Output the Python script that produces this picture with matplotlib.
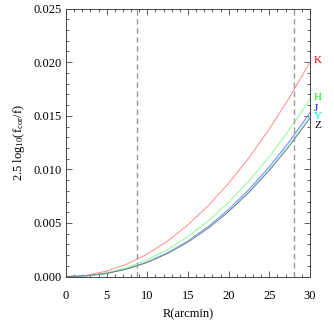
import matplotlib
matplotlib.use("Agg")
import matplotlib.pyplot as plt
from matplotlib.ticker import MultipleLocator

plt.rcParams['font.family'] = ['Liberation Serif', 'DejaVu Serif']
plt.rcParams['mathtext.fontset'] = 'custom'
plt.rcParams['mathtext.rm'] = 'Liberation Serif'
plt.rcParams['mathtext.it'] = 'Liberation Serif'

# radius in arcmin
r = [0, 2.5, 5, 7.5, 10, 12.5, 15, 17.5, 20, 22.5, 25, 27.5, 30]

# 2.5 log10(f_cor/f) per band
k_band = [0, 0.000123, 0.000508, 0.001166, 0.002104, 0.003322, 0.004830,
          0.006624, 0.008710, 0.011088, 0.013764, 0.016732, 0.0200]
h_band = [0, 0.0000792, 0.000352, 0.000841, 0.001560, 0.002520, 0.003731,
          0.005197, 0.006925, 0.008921, 0.011190, 0.013735, 0.01656]
j_band = [0, 0.0000647, 0.000297, 0.000725, 0.001365, 0.002229, 0.003331,
          0.004674, 0.006270, 0.008124, 0.010245, 0.012635, 0.0153]
y_band = [0, 0.0000634, 0.000291, 0.000711, 0.001338, 0.002184, 0.003264,
          0.004581, 0.006145, 0.007962, 0.010040, 0.012382, 0.0150]
z_band = [0, 0.0000626, 0.000287, 0.000701, 0.001320, 0.002156, 0.003221,
          0.004520, 0.006063, 0.007856, 0.009907, 0.012218, 0.0148]

bands = ["K", "H", "J", "Y", "Z"]
label_y = [0.0202, 0.0167, 0.0157, 0.0149, 0.0141]
vlines = [8.7, 28.0]

line_colors = ['#ff8c8c', '#8cff8c', '#7a7aff', '#8cffff', '#777777']
text_colors = ['#ff0000', '#00ee00', '#0000ff', '#00e5e5', '#000000']

fig = plt.figure(figsize=(3.34, 3.32), dpi=100, facecolor="white")
ax = fig.add_axes([0.1976, 0.167, 0.7305, 0.807])

for data, c in zip([k_band, h_band, j_band, y_band, z_band], line_colors):
    ax.plot(r, data, '-', linewidth=0.7, color=c)

for xv in vlines:
    ax.axvline(xv, color='#999999', linestyle=(0, (4, 2.5)), linewidth=1.0)

for name, yv, c in zip(bands, label_y, text_colors):
    ax.text(30.5, yv, name, color=c, fontsize=8, ha='left', va='center',
            clip_on=False)

ax.set_xlim(0, 30)
ax.set_ylim(0, 0.025)
ax.xaxis.set_major_locator(MultipleLocator(5))
ax.xaxis.set_minor_locator(MultipleLocator(1))
ax.yaxis.set_major_locator(MultipleLocator(0.005))
ax.yaxis.set_minor_locator(MultipleLocator(0.001))
ax.yaxis.set_major_formatter(matplotlib.ticker.FormatStrFormatter('%.3f'))
ax.tick_params(which='both', direction='in', top=True, right=True,
               labelsize=9, width=0.6, color='#444444')
ax.tick_params(which='major', length=4)
ax.tick_params(which='minor', length=2)
ax.tick_params(axis='x', pad=10)
ax.tick_params(axis='y', pad=3)
for s in ax.spines.values():
    s.set_linewidth(0.7)
    s.set_color('#444444')

ax.set_xlabel('R(arcmin)', fontsize=9, labelpad=4)
ax.set_ylabel(r'2.5 log$_{10}$(f$_{cor}$/f)', fontsize=9, labelpad=5)

fig.savefig('out.png', dpi=100)
